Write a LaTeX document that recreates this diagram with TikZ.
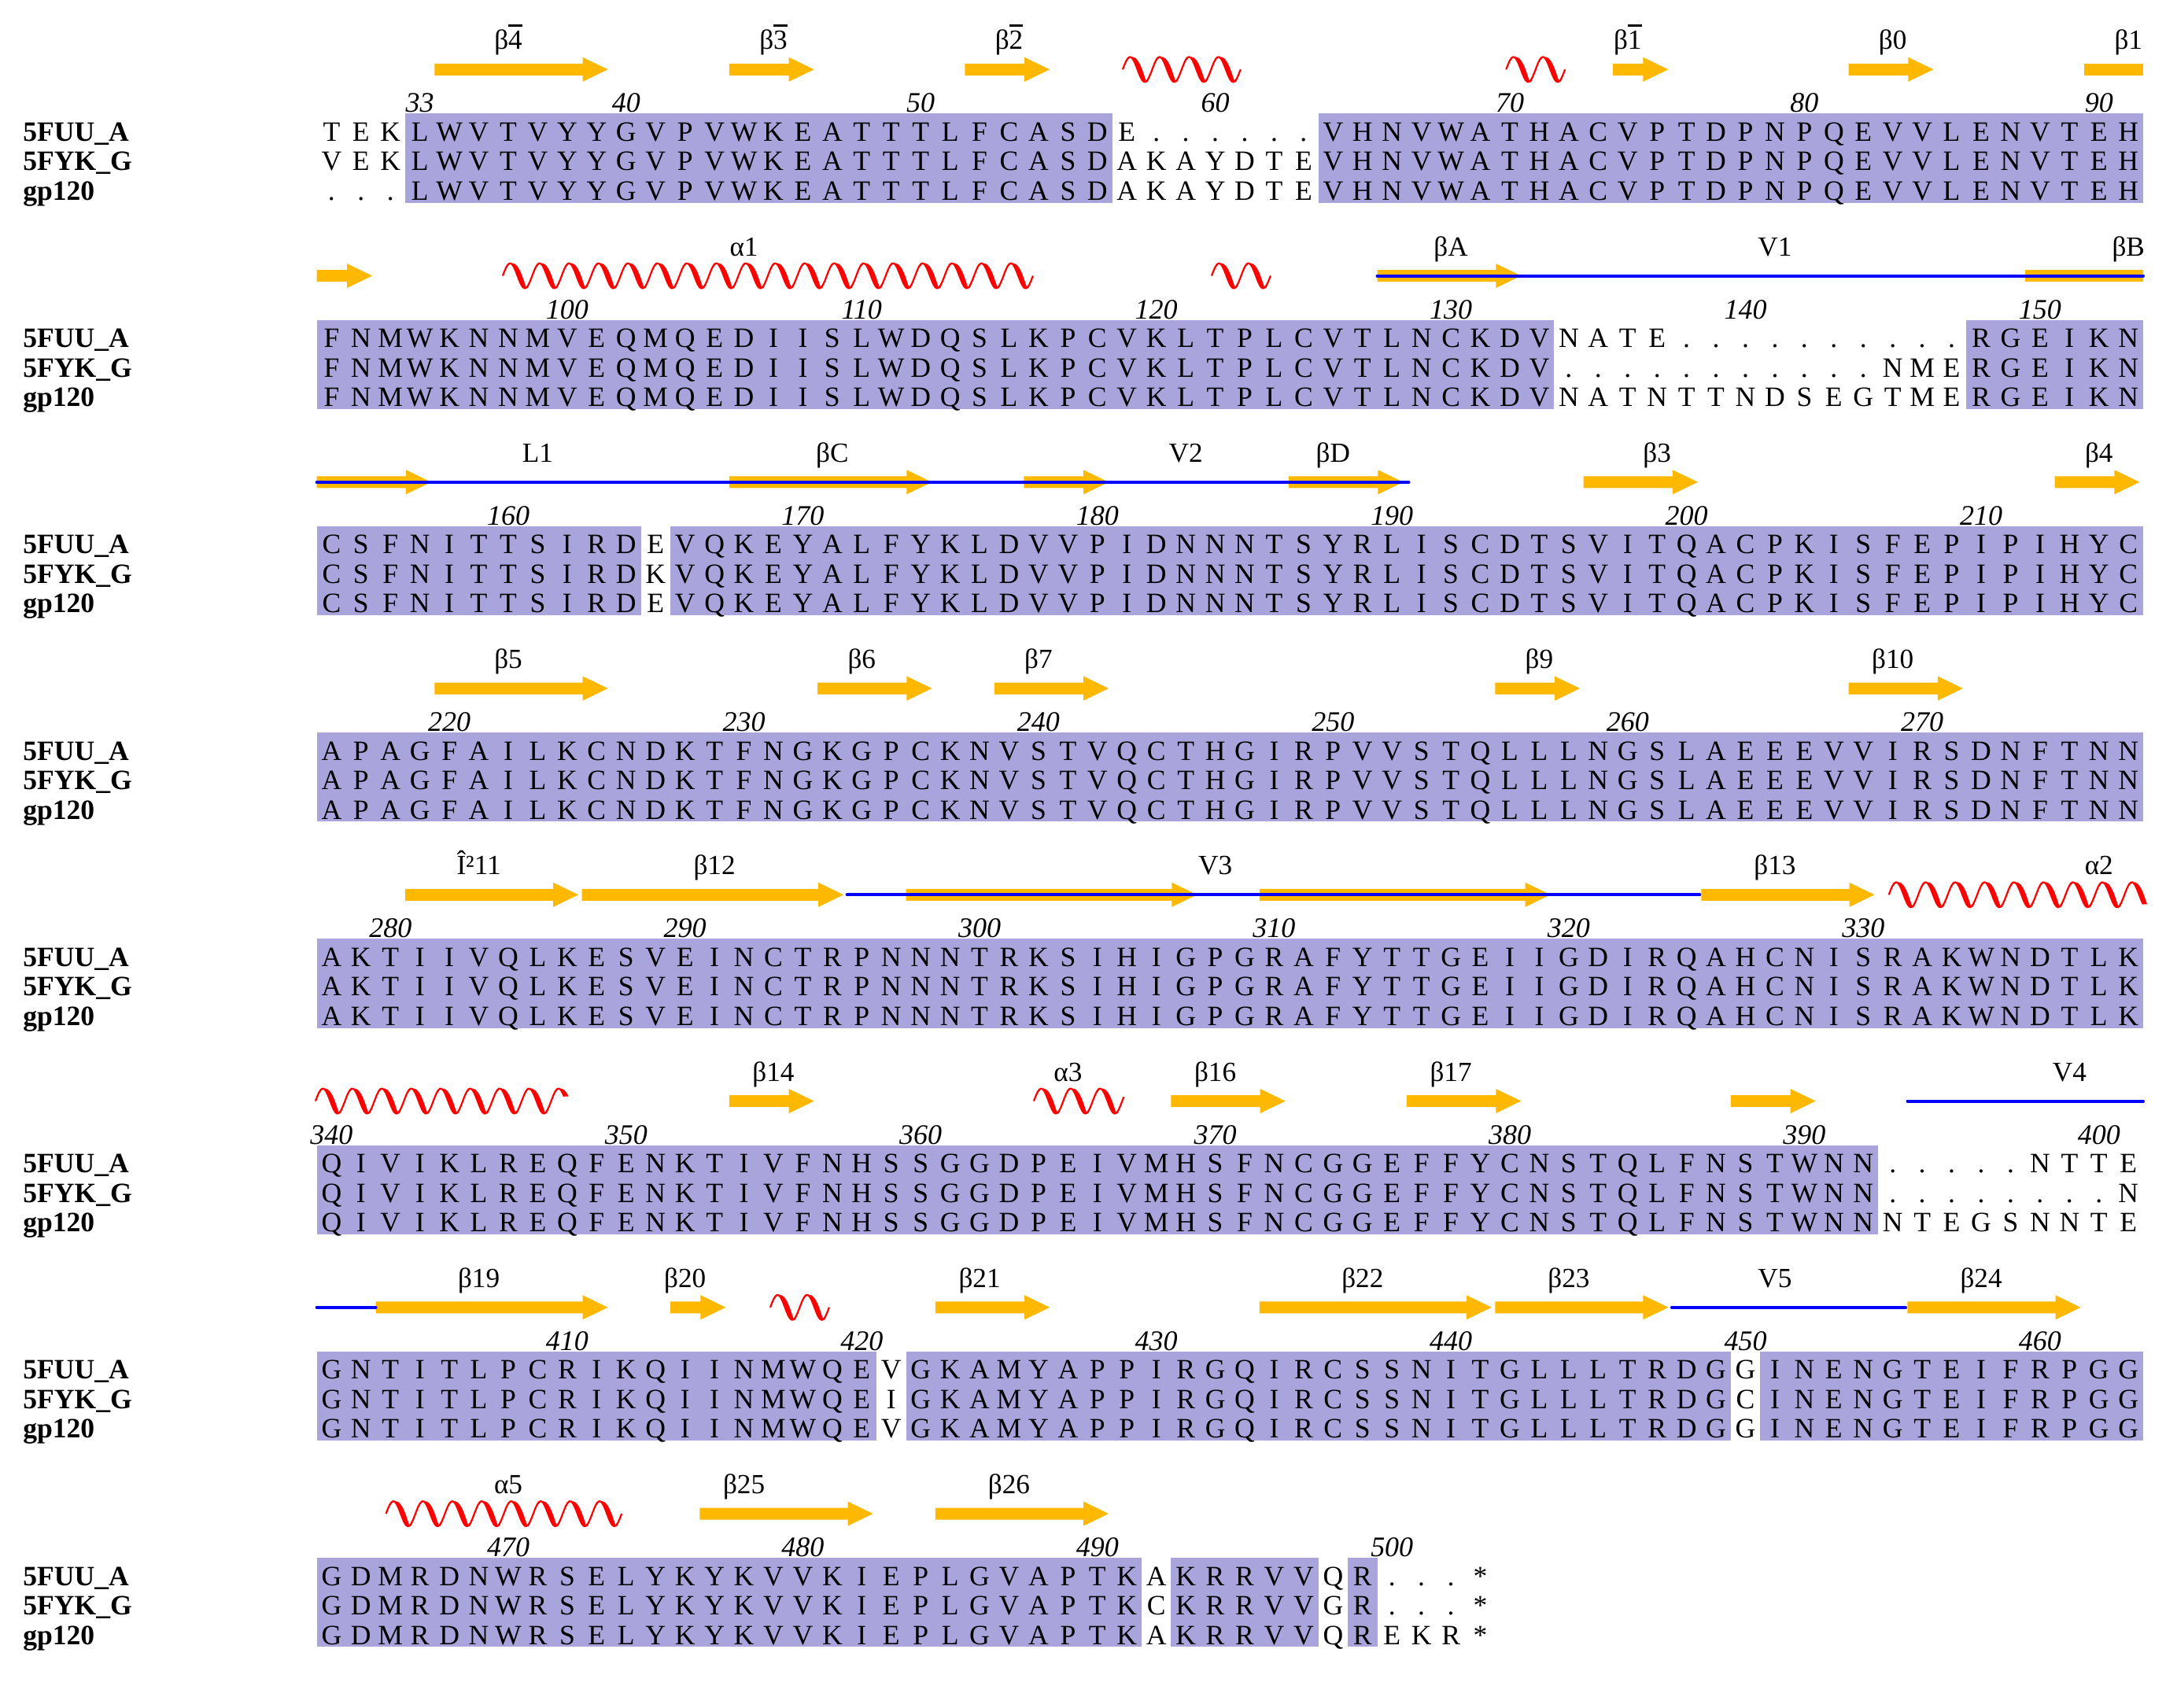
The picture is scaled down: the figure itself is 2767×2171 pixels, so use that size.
\documentclass[tikz,border=0pt]{standalone}
\usepackage{fontspec}
\setmainfont{Liberation Serif}
\definecolor{hlc}{RGB}{170,164,220}
\definecolor{ssyellow}{RGB}{255,184,0}
\definecolor{ssblue}{RGB}{0,0,255}
\newcount\rescol
\def\resend{RESENDMARK}
\newcommand\setblk[1]{\pgfmathsetmacro\T{144.3+262.25*#1}\def\blk{#1}}
\newcommand\resrow[2]{\global\rescol=0 \pgfmathsetmacro\resy{\T+35+37.5*#1}\def\resrowi{#1}\resloop#2\resend}
\def\resloop#1{\ifx\resend#1\let\resnext\relax\else\def\resnext{\resput{#1}\resloop}\fi\resnext}
\def\resput#1{\node[res] (r\blk-\resrowi-\the\rescol) at ({421.4+37.44*\the\rescol},\resy) {#1};\global\advance\rescol by 1 }
\newcommand\hl[2]{\fill[hlc] ({402.7+37.44*#1},\T) rectangle ({402.7+37.44*(#2+1)},{\T+113.4});}
\newcommand\sheet[2]{%
  \pgfmathsetmacro\sxa{402.7+37.44*#1}%
  \pgfmathsetmacro\sxb{402.7+37.44*(#2+1)-4.5}%
  \pgfmathsetmacro\syc{\T-56}%
  \fill[strand] (\sxa,\syc-7.5) -- (\sxb-32,\syc-7.5) -- (\sxb-32,\syc-15.5) -- (\sxb,\syc) -- (\sxb-32,\syc+15.5) -- (\sxb-32,\syc+7.5) -- (\sxa,\syc+7.5) -- cycle;}
\newcommand\sheetopen[2]{%
  \pgfmathsetmacro\sxa{402.7+37.44*#1}%
  \pgfmathsetmacro\syc{\T-56}%
  \fill[strand] (\sxa,\syc-7.5) rectangle (#2,\syc+7.5);}
\newcommand\loopl[2]{\draw[loopline] (#1,{\T-56}) -- (#2,{\T-56});}
\newcommand\helix[2]{%
  \pgfmathsetmacro\hxa{#1}\pgfmathsetmacro\hxb{#2}\pgfmathsetmacro\hyc{\T-56}%
  \pgfmathtruncatemacro\hns{(#2-#1)/2.3+2}%
  \fill[helixfill] plot[domain=\hxa:\hxb, samples=\hns] (\x,{\hyc-16*sin((\x-\hxa)/37.44*360)})
    -- plot[domain=\hxb:\hxa, samples=\hns] ({\x+3*(1-cos((\x-\hxa)/37.44*360))},{\hyc-16*sin((\x-\hxa)/37.44*360)}) -- cycle;
  \draw[helixs] plot[domain=\hxa:\hxb, samples=\hns] (\x,{\hyc-16*sin((\x-\hxa)/37.44*360)});}
\newcommand\ssnum[2]{\node[numf] (n\blk-#1) at ({421.4+37.44*#1},{\T-1.5}) {#2};}
\newcommand\sslab[2]{\node[lab] (l\blk-#1) at ({421.4+37.44*#1},{\T-81.5}) {#2};}
\newcommand\ob[1]{\makebox[0pt][l]{\raisebox{0.83em}{\rule{0.5em}{0.08em}}}#1}
\newcommand\names{%
  \node[nm] (nA\blk) at (28.5,{\T+35}) {5FUU\_A};
  \node[nm] (nB\blk) at (28.5,{\T+72.5}) {5FYK\_G};
  \node[nm] (nC\blk) at (28.5,{\T+110}) {gp120};}
\begin{document}
\begin{tikzpicture}[x=0.25pt,y=-0.25pt,
  res/.style={anchor=base,inner sep=0pt,font=\fontsize{8.9}{10}\selectfont},
  nm/.style={anchor=base west,inner sep=0pt,font=\fontsize{8.9}{10}\selectfont\bfseries},
  numf/.style={anchor=base,inner sep=0pt,font=\fontsize{9}{10}\selectfont\itshape},
  lab/.style={anchor=base,inner sep=0pt,font=\fontsize{8.8}{10}\selectfont},
  strand/.style={fill=ssyellow},
  loopline/.style={draw=ssblue,line width=1pt,line cap=round},
  helixs/.style={draw=red,line width=0.55pt,line join=round},
  helixfill/.style={fill=red}]
\fill[white] (0,0) rectangle (2767,2171);
\useasboundingbox (0,0) rectangle (2767,2171);
% ---------- block 0
\setblk{0}
\hl{3}{26}\hl{34}{61}
\sheet{4}{9}\sheet{14}{16}\sheet{22}{24}\sheet{44}{45}\sheet{52}{54}\sheetopen{60}{2724}
\helix{1427}{1576.8}\helix{1914.3}{1989.2}
\sslab{6}{β\ob{4}}\sslab{15}{β\ob{3}}\sslab{23}{β\ob{2}}\sslab{44}{β\ob{1}}\sslab{53}{β0}\sslab{61}{β1}
\ssnum{3}{33}\ssnum{10}{40}\ssnum{20}{50}\ssnum{30}{60}\ssnum{40}{70}\ssnum{50}{80}\ssnum{60}{90}
\names
\resrow{0}{T E K L W V T V Y Y G V P V W K E A T T T L F C A S D E . . . . . . V H N V W A T H A C V P T D P N P Q E V V L E N V T E H}
\resrow{1}{V E K L W V T V Y Y G V P V W K E A T T T L F C A S D A K A Y D T E V H N V W A T H A C V P T D P N P Q E V V L E N V T E H}
\resrow{2}{. . . L W V T V Y Y G V P V W K E A T T T L F C A S D A K A Y D T E V H N V W A T H A C V P T D P N P Q E V V L E N V T E H}
% ---------- block 1
\setblk{1}
\hl{0}{41}\hl{56}{61}
\sheet{0}{1}\sheet{36}{40}\sheetopen{58}{2724}
\loopl{1750.5}{2724}
\helix{639}{1312.9}\helix{1540}{1614.9}
\sslab{14}{α1}\sslab{38}{βA}\sslab{49}{V1}\sslab{61}{βB}
\ssnum{8}{100}\ssnum{18}{110}\ssnum{28}{120}\ssnum{38}{130}\ssnum{48}{140}\ssnum{58}{150}
\names
\resrow{0}{F N M W K N N M V E Q M Q E D I I S L W D Q S L K P C V K L T P L C V T L N C K D V N A T E . . . . . . . . . . R G E I K N}
\resrow{1}{F N M W K N N M V E Q M Q E D I I S L W D Q S L K P C V K L T P L C V T L N C K D V . . . . . . . . . . . N M E R G E I K N}
\resrow{2}{F N M W K N N M V E Q M Q E D I I S L W D Q S L K P C V K L T P L C V T L N C K D V N A T N T T N D S E G T M E R G E I K N}
% ---------- block 2
\setblk{2}
\hl{0}{10}\hl{12}{61}
\sheet{0}{3}\sheet{14}{20}\sheet{24}{26}\sheet{33}{36}\sheet{43}{46}\sheet{59}{61}
\loopl{402.7}{1790.5}
\sslab{7}{L1}\sslab{17}{βC}\sslab{29}{V2}\sslab{34}{βD}\sslab{45}{β3}\sslab{60}{β4}
\ssnum{6}{160}\ssnum{16}{170}\ssnum{26}{180}\ssnum{36}{190}\ssnum{46}{200}\ssnum{56}{210}
\names
\resrow{0}{C S F N I T T S I R D E V Q K E Y A L F Y K L D V V P I D N N N T S Y R L I S C D T S V I T Q A C P K I S F E P I P I H Y C}
\resrow{1}{C S F N I T T S I R D K V Q K E Y A L F Y K L D V V P I D N N N T S Y R L I S C D T S V I T Q A C P K I S F E P I P I H Y C}
\resrow{2}{C S F N I T T S I R D E V Q K E Y A L F Y K L D V V P I D N N N T S Y R L I S C D T S V I T Q A C P K I S F E P I P I H Y C}
% ---------- block 3
\setblk{3}
\hl{0}{61}
\sheet{4}{9}\sheet{17}{20}\sheet{23}{26}\sheet{40}{42}\sheet{52}{55}
\sslab{6}{β5}\sslab{18}{β6}\sslab{24}{β7}\sslab{41}{β9}\sslab{53}{β10}
\ssnum{4}{220}\ssnum{14}{230}\ssnum{24}{240}\ssnum{34}{250}\ssnum{44}{260}\ssnum{54}{270}
\names
\resrow{0}{A P A G F A I L K C N D K T F N G K G P C K N V S T V Q C T H G I R P V V S T Q L L L N G S L A E E E V V I R S D N F T N N}
\resrow{1}{A P A G F A I L K C N D K T F N G K G P C K N V S T V Q C T H G I R P V V S T Q L L L N G S L A E E E V V I R S D N F T N N}
\resrow{2}{A P A G F A I L K C N D K T F N G K G P C K N V S T V Q C T H G I R P V V S T Q L L L N G S L A E E E V V I R S D N F T N N}
% ---------- block 4
\setblk{4}
\hl{0}{61}
\sheet{3}{8}\sheet{9}{17}\sheet{20}{29}\sheet{32}{41}\sheet{47}{52}
\loopl{1076.6}{2160.3}
\helix{2400.7}{2724}
\sslab{5}{Î²11}\sslab{13}{β12}\sslab{30}{V3}\sslab{49}{β13}\sslab{60}{α2}
\ssnum{2}{280}\ssnum{12}{290}\ssnum{22}{300}\ssnum{32}{310}\ssnum{42}{320}\ssnum{52}{330}
\names
\resrow{0}{A K T I I V Q L K E S V E I N C T R P N N N T R K S I H I G P G R A F Y T T G E I I G D I R Q A H C N I S R A K W N D T L K}
\resrow{1}{A K T I I V Q L K E S V E I N C T R P N N N T R K S I H I G P G R A F Y T T G E I I G D I R Q A H C N I S R A K W N D T L K}
\resrow{2}{A K T I I V Q L K E S V E I N C T R P N N N T R K S I H I G P G R A F Y T T G E I I G D I R Q A H C N I S R A K W N D T L K}
% ---------- block 5
\setblk{5}
\hl{0}{52}
\sheet{14}{16}\sheet{29}{32}\sheet{37}{40}\sheet{48}{50}
\loopl{2424.5}{2724}
\helix{401}{717}\helix{1314}{1428.3}
\sslab{15}{β14}\sslab{25}{α3}\sslab{30}{β16}\sslab{38}{β17}\sslab{59}{V4}
\ssnum{0}{340}\ssnum{10}{350}\ssnum{20}{360}\ssnum{30}{370}\ssnum{40}{380}\ssnum{50}{390}\ssnum{60}{400}
\names
\resrow{0}{Q I V I K L R E Q F E N K T I V F N H S S G G D P E I V M H S F N C G G E F F Y C N S T Q L F N S T W N N . . . . . N T T E}
\resrow{1}{Q I V I K L R E Q F E N K T I V F N H S S G G D P E I V M H S F N C G G E F F Y C N S T Q L F N S T W N N . . . . . . . . N}
\resrow{2}{Q I V I K L R E Q F E N K T I V F N H S S G G D P E I V M H S F N C G G E F F Y C N S T Q L F N S T W N N N T E G S N N T E}
% ---------- block 6
\setblk{6}
\hl{0}{18}\hl{20}{47}\hl{49}{61}
\sheet{2}{9}\sheet{12}{13}\sheet{21}{24}\sheet{32}{39}\sheet{40}{45}\sheet{54}{59}
\loopl{402.7}{477.6}\loopl{2124.9}{2422}
\helix{979}{1053.9}
\sslab{5}{β19}\sslab{12}{β20}\sslab{22}{β21}\sslab{35}{β22}\sslab{42}{β23}\sslab{49}{V5}\sslab{56}{β24}
\ssnum{8}{410}\ssnum{18}{420}\ssnum{28}{430}\ssnum{38}{440}\ssnum{48}{450}\ssnum{58}{460}
\names
\resrow{0}{G N T I T L P C R I K Q I I N M W Q E V G K A M Y A P P I R G Q I R C S S N I T G L L L T R D G G I N E N G T E I F R P G G}
\resrow{1}{G N T I T L P C R I K Q I I N M W Q E I G K A M Y A P P I R G Q I R C S S N I T G L L L T R D G C I N E N G T E I F R P G G}
\resrow{2}{G N T I T L P C R I K Q I I N M W Q E V G K A M Y A P P I R G Q I R C S S N I T G L L L T R D G G I N E N G T E I F R P G G}
% ---------- block 7
\setblk{7}
\hl{0}{27}\hl{29}{33}\hl{35}{35}
\sheet{13}{18}\sheet{21}{26}
\helix{490.6}{790.1}
\sslab{6}{α5}\sslab{14}{β25}\sslab{23}{β26}
\ssnum{6}{470}\ssnum{16}{480}\ssnum{26}{490}\ssnum{36}{500}
\names
\resrow{0}{G D M R D N W R S E L Y K Y K V V K I E P L G V A P T K A K R R V V Q R . . . *}
\resrow{1}{G D M R D N W R S E L Y K Y K V V K I E P L G V A P T K C K R R V V G R . . . *}
\resrow{2}{G D M R D N W R S E L Y K Y K V V K I E P L G V A P T K A K R R V V Q R E K R *}
\end{tikzpicture}
\end{document}
